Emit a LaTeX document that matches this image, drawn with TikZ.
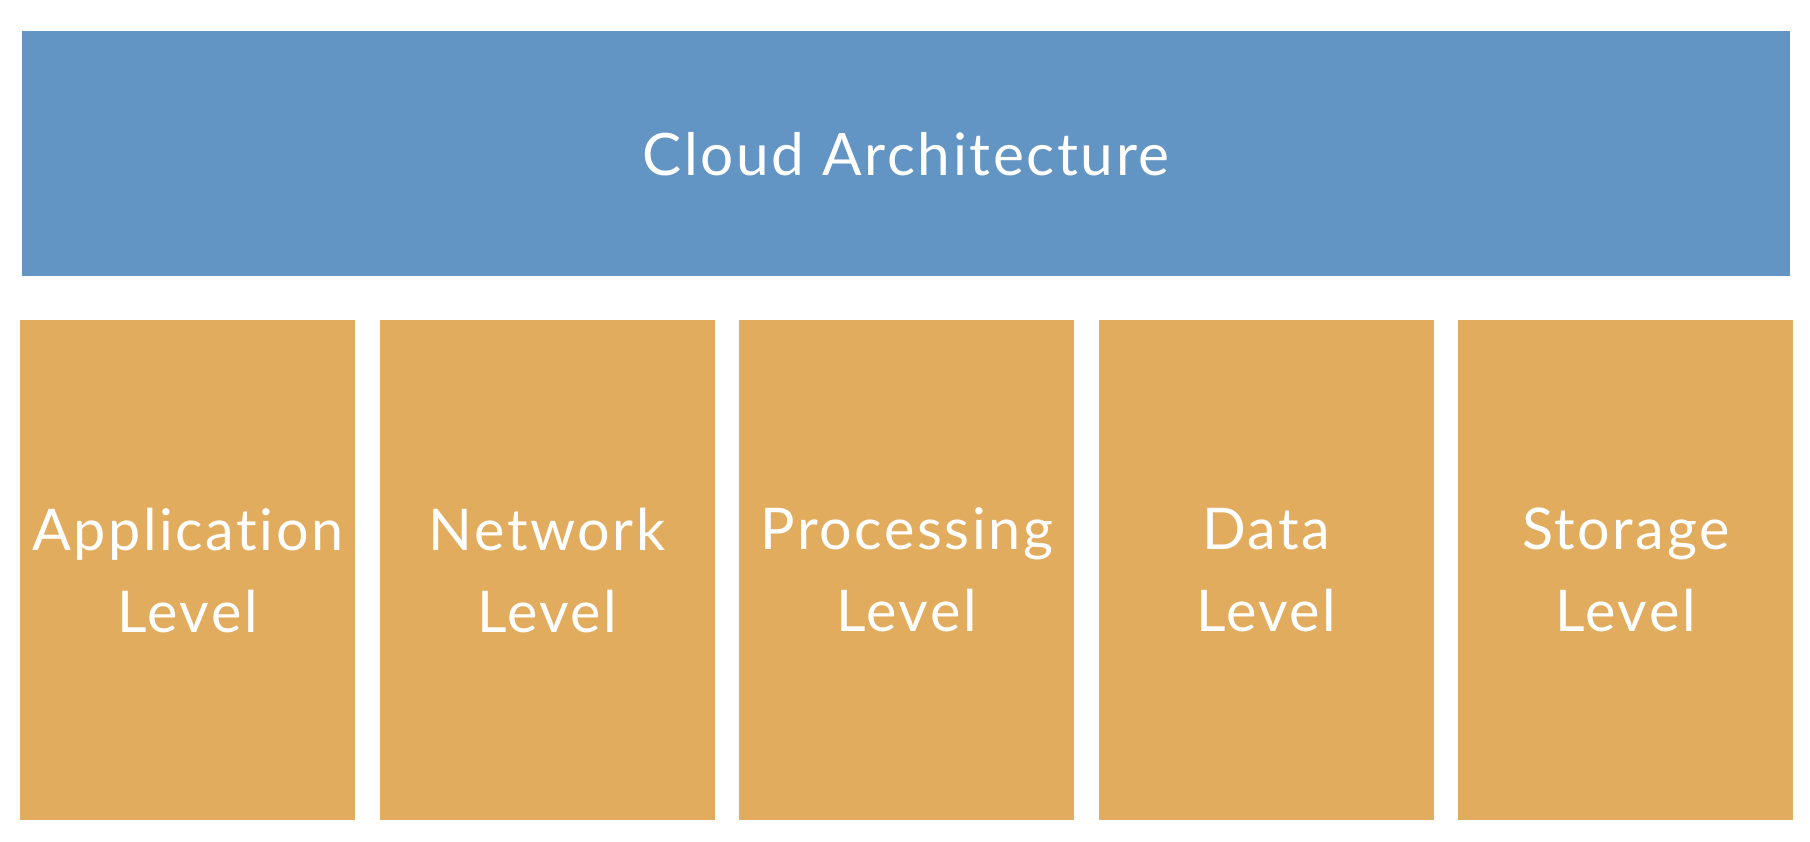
\documentclass[tikz,border=0pt]{standalone}
\usepackage{fontspec}
\setmainfont{Lato}[LetterSpace=4.5,Ligatures={NoCommon}]
\definecolor{cablue}{HTML}{6395C4}
\definecolor{caorange}{HTML}{E2AC5E}
\begin{document}
\begin{tikzpicture}[x=1pt,y=-1pt,
  topbox/.style={fill=cablue, draw=none, minimum width=1768pt, minimum height=245pt, anchor=north west, inner sep=0pt, text=white, font=\fontsize{58.5}{66}\selectfont},
  levelbox/.style={fill=caorange, draw=none, minimum width=335pt, minimum height=500pt, anchor=north west, inner sep=0pt, text=white, align=center, font=\fontsize{57.5}{82}\selectfont}]
\useasboundingbox (0,0) rectangle (1810,842);
\fill[white] (0,0) rectangle (1810,842);
\node[topbox] (cloud) at (22,31) {Cloud Architecture};
\node[levelbox] (app) at (20,320) {Application\\Level};
\node[levelbox] (net) at (379.5,320) {Network\\Level};
\node[levelbox] (proc) at (739,320) {Processing\\Level};
\node[levelbox] (data) at (1098.5,320) {Data\\Level};
\node[levelbox] (stor) at (1458,320) {Storage\\Level};
\end{tikzpicture}
\end{document}
